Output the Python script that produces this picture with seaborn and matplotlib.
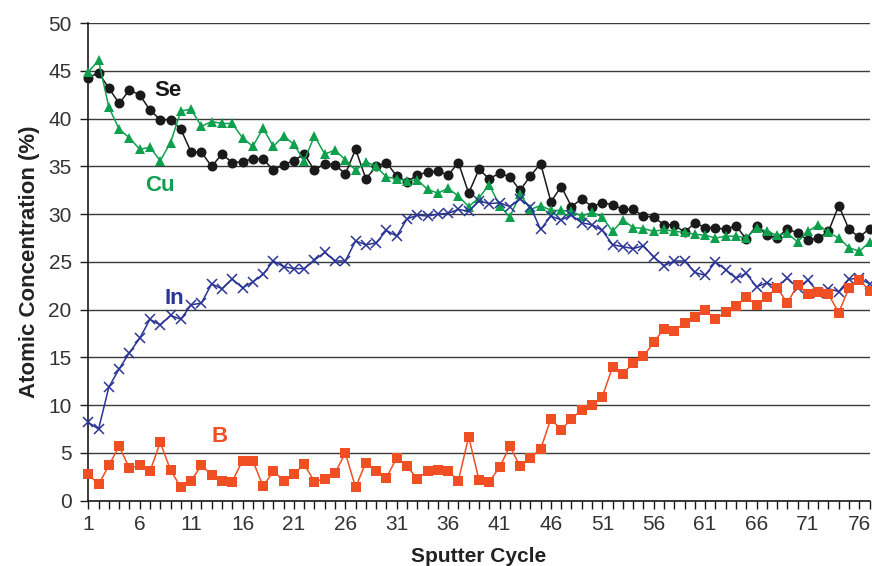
import matplotlib
matplotlib.use("Agg")
import matplotlib.pyplot as plt
import seaborn as sns
import numpy as np
import pandas as pd

cycles = list(range(1, 78))

se = [44.3, 44.8, 43.2, 41.6, 43.0, 42.5, 40.9, 39.9, 39.9, 38.9,
      36.5, 36.5, 35.0, 36.3, 35.4, 35.5, 35.8, 35.8, 34.6, 35.2,
      35.6, 36.3, 34.6, 35.3, 35.2, 34.2, 36.8, 33.7, 35.0, 35.4,
      34.0, 33.4, 34.1, 34.4, 34.5, 34.1, 35.4, 32.2, 34.7, 33.7,
      34.3, 33.9, 32.5, 34.0, 35.3, 31.3, 32.9, 30.8, 31.6, 30.8,
      31.2, 31.0, 30.5, 30.5, 29.8, 29.7, 28.9, 28.9, 28.1, 29.1,
      28.6, 28.6, 28.4, 28.8, 27.4, 28.8, 27.8, 27.5, 28.5, 28.0,
      27.3, 27.5, 28.2, 30.9, 28.4, 27.6, 28.5]

cu = [44.9, 46.1, 41.2, 38.9, 38.0, 36.8, 37.0, 35.6, 37.5, 40.8,
      41.0, 39.2, 39.7, 39.5, 39.5, 38.0, 37.1, 39.0, 37.1, 38.2,
      37.3, 35.6, 38.2, 36.3, 36.7, 35.7, 34.6, 35.5, 35.0, 33.9,
      33.7, 33.5, 33.6, 32.6, 32.2, 32.7, 31.9, 30.8, 31.7, 33.1,
      30.9, 29.7, 32.1, 30.5, 30.9, 30.4, 30.4, 30.3, 29.8, 30.2,
      29.7, 28.2, 29.4, 28.6, 28.5, 28.2, 28.4, 28.2, 28.1, 27.9,
      27.8, 27.5, 27.7, 27.7, 27.5, 28.6, 28.2, 27.8, 28.0, 27.1,
      28.2, 28.9, 28.1, 27.5, 26.5, 26.1, 27.1]

indium = [8.2, 7.5, 11.9, 13.8, 15.5, 17.0, 19.0, 18.4, 19.4, 19.0,
          20.5, 20.7, 22.7, 22.2, 23.2, 22.3, 22.9, 23.7, 25.1, 24.5,
          24.3, 24.3, 25.2, 26.0, 25.1, 25.1, 27.2, 26.8, 27.0, 28.3,
          27.7, 29.5, 29.9, 29.8, 30.0, 30.1, 30.5, 30.3, 31.4, 31.1,
          31.2, 30.8, 31.6, 30.8, 28.4, 29.8, 29.4, 29.9, 29.1, 28.9,
          28.3, 26.8, 26.6, 26.4, 26.7, 25.5, 24.6, 25.1, 25.1, 23.9,
          23.6, 25.0, 24.2, 23.3, 23.8, 22.4, 22.8, 22.4, 23.3, 22.3,
          23.1, 21.8, 22.2, 21.9, 23.2, 23.3, 22.7]

boron = [2.8, 1.7, 3.7, 5.7, 3.4, 3.7, 3.1, 6.1, 3.2, 1.4,
         2.1, 3.7, 2.7, 2.1, 2.0, 4.2, 4.2, 1.5, 3.1, 2.1,
         2.8, 3.8, 2.0, 2.3, 2.9, 5.0, 1.4, 4.0, 3.1, 2.4,
         4.5, 3.6, 2.3, 3.1, 3.2, 3.1, 2.1, 6.7, 2.2, 2.0,
         3.5, 5.7, 3.6, 4.5, 5.4, 8.6, 7.4, 8.6, 9.5, 10.0,
         10.9, 14.0, 13.3, 14.4, 15.1, 16.6, 18.0, 17.8, 18.6, 19.2,
         20.0, 19.0, 19.8, 20.4, 21.3, 20.5, 21.3, 22.3, 20.7, 22.6,
         21.6, 21.9, 21.6, 19.7, 22.3, 23.1, 22.0]

series_names = ["Se", "Cu", "In", "B"]
x_tick_labels = [str(c) if (c - 1) % 5 == 0 else "" for c in cycles]

df = pd.DataFrame({"cycle": cycles, "Se": se, "Cu": cu, "In": indium, "B": boron})

sns.set_style("white")
plt.rcParams["font.family"] = ["Liberation Sans", "DejaVu Sans"]

fig = plt.figure(figsize=(8.72, 5.66), dpi=100)
ax = fig.add_axes([88.3 / 872, (566 - 500.7) / 566, (869.6 - 88.3) / 872, (500.7 - 23.2) / 566])

styles = {
    "Se": dict(color="#1a1a1a", marker="o", markersize=7.2, markeredgewidth=0),
    "Cu": dict(color="#0fa04e", marker="^", markersize=7.8, markeredgewidth=0),
    "In": dict(color="#2b3595", marker="x", markersize=6.5, markeredgewidth=1.1),
    "B": dict(color="#f04e23", marker="s", markersize=6.8, markeredgewidth=0),
}
for name in series_names:
    st = styles[name]
    sns.lineplot(data=df, x="cycle", y=name, ax=ax, color=st["color"], linewidth=1.1,
                 marker=st["marker"], markersize=st["markersize"],
                 markeredgewidth=st["markeredgewidth"], markeredgecolor=st["color"],
                 zorder=3, legend=False, clip_on=False)

ax.set_xlim(1, 77)
ax.set_ylim(0, 50)
ax.set_yticks(np.arange(0, 51, 5))
ax.set_xticks(cycles)
ax.set_xticklabels(x_tick_labels)
ax.yaxis.grid(True, color="#3a3a3a", linewidth=1.0)
ax.set_axisbelow(True)
for s in ["top", "right"]:
    ax.spines[s].set_visible(False)
for s in ["left", "bottom"]:
    ax.spines[s].set_color("#1a1a1a")
    ax.spines[s].set_linewidth(1.2)
ax.tick_params(axis="both", direction="out", length=6, width=1.0, color="#1a1a1a",
               labelsize=15, labelcolor="#333333", bottom=True, left=True)
ax.tick_params(axis="y", pad=6)
ax.tick_params(axis="x", pad=4)

ax.set_xlabel("Sputter Cycle", fontsize=15, fontweight="bold", color="#222222", labelpad=10)
ax.set_ylabel("Atomic Concentration (%)", fontsize=16, fontweight="bold", color="#222222", labelpad=6)

lab_kw = dict(fontsize=16, fontweight="bold", ha="center", va="center")
ax.text(8.75, 43.0, "Se", color="#1a1a1a", **lab_kw)
ax.text(8.0, 33.0, "Cu", color="#0fa04e", **lab_kw)
ax.text(9.35, 21.2, "In", color="#2b3595", **lab_kw)
ax.text(13.8, 6.7, "B", color="#f04e23", **lab_kw)

fig.savefig("out.png", dpi=100)
